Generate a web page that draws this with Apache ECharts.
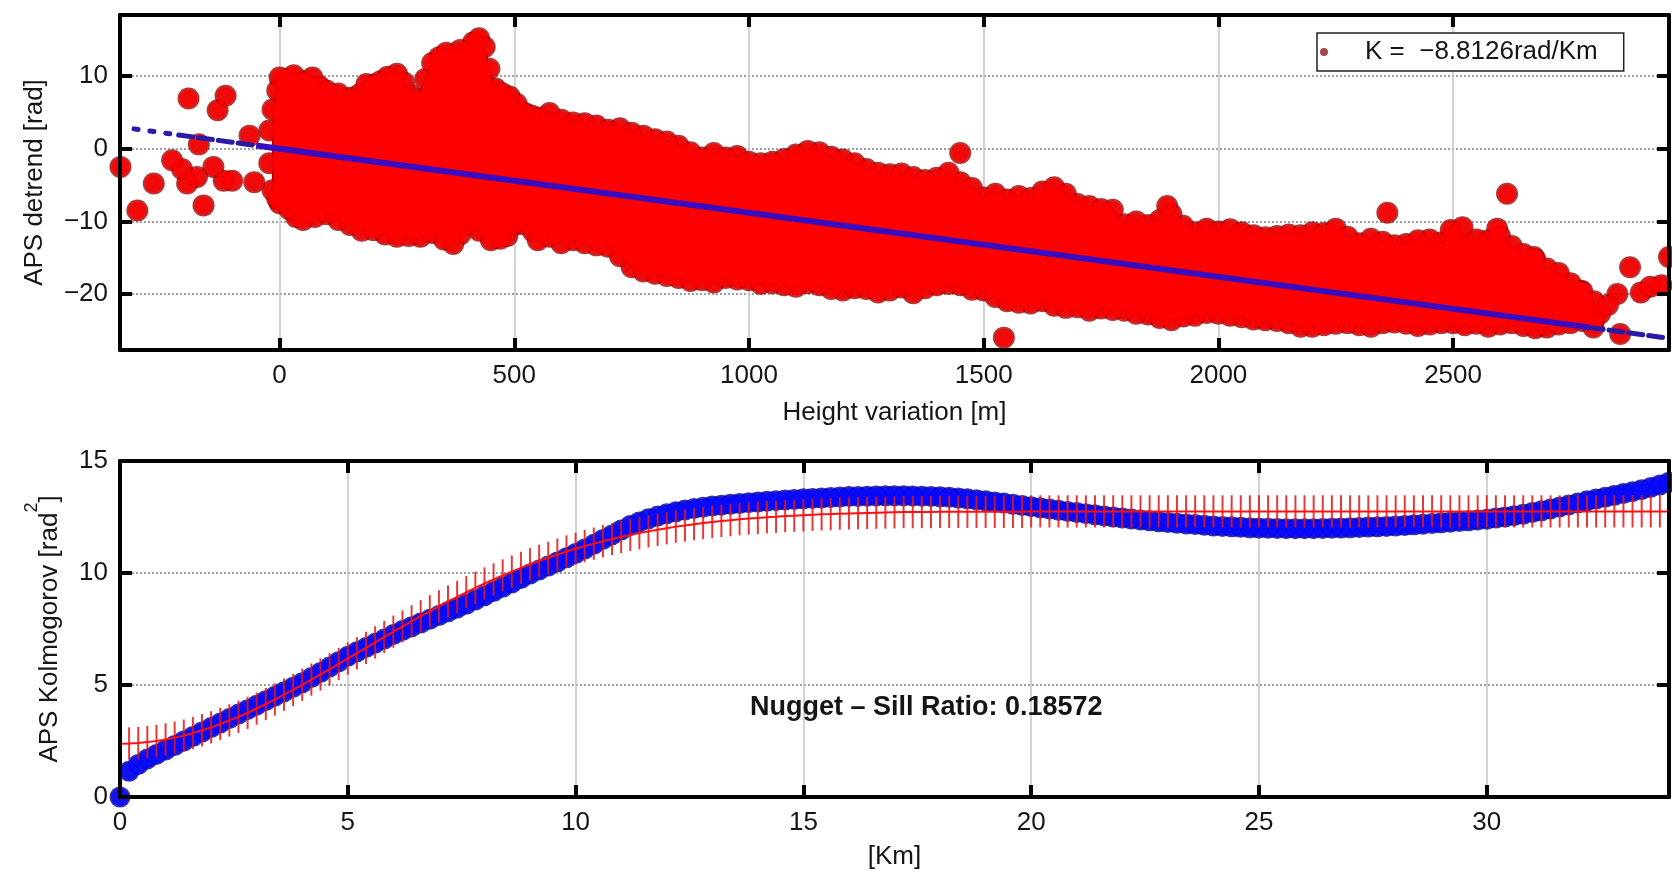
<!DOCTYPE html>
<html><head><meta charset="utf-8">
<script src="https://cdn.jsdelivr.net/npm/echarts@6/dist/echarts.min.js"></script>
<style>html,body{margin:0;padding:0;background:#fff}#c{width:1672px;height:877px}</style>
</head><body><div id="c"></div>
<script>
const FONT = '"Liberation Sans", Arial, Helvetica, sans-serif';

// ---------- top panel: APS detrend vs height ----------
const upperEdge = [[-15,5.4],[-5,8.0],[0,9.8],[15,9.6],[30,10.1],[50,9.3],[70,9.8],[85,8.6],[100,8.0],[125,7.6],[150,7.0],[170,7.5],[185,8.9],[200,8.8],[215,9.3],[230,9.9],[250,10.3],[265,9.1],[280,7.4],[295,6.8],[310,9.6],[325,11.8],[340,12.6],[355,13.2],[370,12.5],[385,13.6],[400,13.3],[412,14.6],[425,15.2],[437,14.0],[447,11.0],[460,8.3],[475,7.6],[490,7.2],[505,6.2],[520,5.0],[535,4.6],[550,4.3],[575,4.9],[600,4.0],[625,3.6],[650,3.5],[675,3.2],[700,2.6],[725,2.8],[750,2.2],[775,1.8],[800,1.3],[825,1.0],[850,0.4],[875,-0.5],[900,-1.2],[925,-0.6],[950,-1.2],[975,-1.0],[1000,-1.8],[1025,-2.0],[1050,-1.8],[1075,-1.4],[1100,-0.8],[1125,-0.3],[1150,-0.5],[1175,-1.1],[1200,-1.5],[1225,-2.0],[1250,-2.8],[1275,-3.3],[1300,-3.5],[1325,-3.4],[1350,-3.9],[1375,-4.3],[1400,-4.0],[1425,-3.3],[1450,-4.6],[1475,-5.4],[1500,-6.7],[1525,-6.2],[1550,-7.0],[1575,-6.5],[1600,-6.8],[1625,-5.9],[1650,-5.3],[1675,-6.2],[1700,-7.6],[1725,-7.9],[1750,-8.3],[1775,-8.4],[1800,-10.4],[1825,-10.0],[1850,-10.5],[1875,-9.8],[1900,-9.0],[1925,-10.6],[1950,-11.5],[1975,-11.0],[2000,-11.4],[2025,-11.1],[2050,-11.5],[2075,-11.9],[2100,-12.2],[2125,-12.0],[2150,-11.8],[2175,-11.9],[2200,-11.5],[2225,-11.6],[2250,-11.0],[2275,-12.1],[2300,-13.0],[2325,-12.4],[2350,-12.8],[2375,-13.3],[2400,-13.1],[2425,-12.6],[2450,-12.5],[2475,-12.9],[2500,-12.0],[2525,-12.9],[2550,-12.5],[2575,-12.6],[2600,-12.0],[2625,-13.4],[2650,-14.5],[2675,-15.2],[2700,-16.5],[2725,-17.1],[2750,-18.5],[2775,-19.6],[2800,-21.0]];
const lowerEdge = [[-15,-5.7],[-5,-6.9],[0,-7.5],[20,-8.3],[35,-9.4],[50,-9.8],[75,-9.4],[100,-9.0],[125,-9.8],[150,-10.5],[175,-11.3],[200,-11.2],[225,-11.8],[250,-12.1],[275,-12.0],[300,-12.1],[325,-11.6],[350,-12.5],[370,-13.1],[385,-11.8],[400,-10.5],[425,-11.3],[450,-12.6],[470,-12.4],[485,-12.0],[500,-10.5],[520,-10.4],[540,-11.4],[550,-12.6],[575,-12.1],[600,-13.0],[625,-12.6],[650,-13.0],[675,-13.3],[700,-13.5],[725,-14.8],[750,-16.3],[775,-16.9],[800,-17.2],[825,-17.5],[850,-17.8],[875,-18.2],[900,-18.1],[925,-18.4],[950,-17.8],[975,-18.0],[1000,-18.1],[1025,-18.6],[1050,-18.5],[1075,-18.8],[1100,-19.0],[1125,-18.5],[1150,-18.8],[1175,-19.3],[1200,-19.5],[1225,-19.2],[1250,-19.3],[1275,-19.8],[1300,-19.5],[1325,-19.1],[1350,-19.9],[1375,-19.2],[1400,-18.8],[1425,-18.6],[1450,-18.8],[1475,-19.4],[1500,-19.5],[1525,-20.4],[1550,-21.0],[1575,-21.2],[1600,-21.3],[1625,-21.0],[1650,-21.6],[1675,-21.9],[1700,-21.8],[1725,-22.3],[1750,-22.0],[1775,-22.2],[1800,-22.3],[1825,-22.7],[1850,-22.8],[1875,-23.3],[1900,-23.6],[1925,-23.1],[1950,-23.0],[1975,-22.6],[2000,-22.7],[2025,-23.0],[2050,-23.2],[2075,-23.5],[2100,-23.6],[2125,-23.7],[2150,-24.0],[2175,-24.5],[2200,-24.5],[2225,-24.3],[2250,-24.1],[2275,-24.0],[2300,-24.3],[2325,-24.5],[2350,-24.0],[2375,-23.9],[2400,-24.1],[2425,-24.4],[2450,-24.2],[2475,-24.0],[2500,-24.0],[2525,-24.3],[2550,-24.1],[2575,-24.5],[2600,-24.2],[2625,-24.0],[2650,-24.4],[2675,-24.7],[2700,-24.6],[2725,-24.2],[2750,-24.0],[2775,-23.7],[2800,-23.6]];
const outlierPts = [[-339,-2.5],[-303,-8.5],[-268,-4.8],[-194,6.9],[-229,-1.6],[-208,-2.8],[-197,-4.8],[-176,-3.9],[-172,0.6],[-162,-7.8],[-132,5.3],[-115,7.3],[-141,-2.5],[-119,-4.4],[-101,-4.4],[-64,1.8],[-54,-4.6],[-22,2.5],[-22,-2.0],[1450,-0.6],[1543,-26.0],[1891,-7.9],[2360,-8.8],[2495,-11.2],[2520,-10.8],[2594,-11.0],[2615,-6.2],[2672,-14.9],[2813,-22.7],[2799,-24.6],[2856,-25.5],[2850,-20.0],[2877,-16.3],[2920,-19.0],[2944,-18.8],[2960,-14.9],[2900,-19.8],[2830,-21.5],[2770,-19.5]];
// fitted line K = -8.8126 rad/km : break points between dotted / dashed / solid parts
const fitLine = [[-310,2.73],[-215,1.89],[-50,0.44],[2790,-24.59],[2950,-26.0]];
const legendLabel = 'K =  \u22128.8126rad/Km';
const heightRange = [-340, 2960];
const apsRange = [-27.7, 18.4];

// ---------- bottom panel: semivariogram ----------
const lagStep = 0.2; // km between lag bins
const semivar = [
0,1.15,1.45,1.7,1.9,2.1,2.3,2.5,2.7,2.9,
3.1,3.3,3.5,3.7,3.9,4.1,4.3,4.5,4.7,4.9,
5.1,5.33,5.56,5.8,6.04,6.28,6.48,6.67,6.86,7.05,
7.25,7.43,7.6,7.77,7.93,8.1,8.27,8.43,8.6,8.79,
8.98,9.17,9.36,9.55,9.75,9.95,10.13,10.31,10.49,10.68,
10.87,11.07,11.28,11.5,11.7,11.92,12.12,12.28,12.42,12.54,
12.64,12.73,12.81,12.88,12.94,12.99,13.03,13.07,13.1,13.14,
13.17,13.2,13.23,13.26,13.28,13.31,13.33,13.35,13.37,13.39,
13.41,13.42,13.43,13.44,13.45,13.45,13.45,13.44,13.43,13.42,
13.4,13.38,13.35,13.31,13.27,13.22,13.17,13.12,13.07,13.01,
12.96,12.91,12.86,12.8,12.75,12.7,12.65,12.6,12.55,12.5,
12.45,12.41,12.37,12.33,12.29,12.25,12.22,12.19,12.16,12.13,
12.1,12.08,12.06,12.04,12.02,12.01,12.0,11.99,11.98,11.98,
11.98,11.98,11.99,12.0,12.01,12.02,12.03,12.05,12.06,12.08,
12.1,12.12,12.15,12.18,12.21,12.24,12.27,12.3,12.33,12.37,
12.4,12.45,12.5,12.56,12.62,12.7,12.78,12.86,12.95,13.04,
13.13,13.22,13.3,13.38,13.46,13.55,13.63,13.72,13.82,13.93,
14.05];
const modelFit = [
2.38,2.39,2.41,2.45,2.50,2.57,2.65,2.74,2.85,2.98,
3.11,3.26,3.42,3.58,3.76,3.95,4.15,4.35,4.57,4.78,
5.01,5.24,5.47,5.70,5.94,6.18,6.42,6.66,6.90,7.14,
7.38,7.61,7.84,8.07,8.29,8.51,8.73,8.93,9.14,9.34,
9.53,9.71,9.89,10.06,10.23,10.39,10.54,10.68,10.82,10.96,
11.08,11.20,11.31,11.42,11.52,11.61,11.70,11.78,11.86,11.93,
12.00,12.07,12.12,12.18,12.23,12.28,12.32,12.36,12.40,12.43,
12.46,12.49,12.51,12.54,12.56,12.58,12.60,12.62,12.63,12.65,
12.66,12.67,12.68,12.69,12.70,12.71,12.72,12.72,12.72,12.72,
12.73,12.73,12.73,12.73,12.73,12.73,12.73,12.73,12.73,12.73,
12.75,12.75,12.75,12.75,12.75,12.75,12.75,12.75,12.75,12.75,
12.75,12.75,12.75,12.75,12.75,12.75,12.75,12.75,12.75,12.75,
12.75,12.75,12.75,12.75,12.75,12.75,12.75,12.75,12.75,12.75,
12.75,12.75,12.75,12.75,12.75,12.75,12.75,12.75,12.75,12.75,
12.75,12.75,12.75,12.75,12.75,12.75,12.75,12.75,12.75,12.75,
12.75,12.75,12.75,12.75,12.75,12.75,12.75,12.75,12.75,12.75,
12.75,12.75,12.75,12.75,12.75,12.75,12.75,12.75,12.75,12.75,
12.75];
const modelErr = 0.72;
const lagRange = [0, 34];
const kolmRange = [0, 15];
const nuggetText = 'Nugget \u2013 Sill Ratio: 0.18572';

// ---------- helpers ----------
const fmt = step => v => (Math.abs(v / step - Math.round(v / step)) < 1e-6 ? String(Math.round(v)).replace('-', '\u2212') : '');
const lblStyle = { fontSize: 26, fontFamily: FONT, color: '#151515' };
function frameAxis(dim, grid, range, step, pos, main, extra) {
  const a = {
    type: 'value', gridIndex: grid, min: range[0], max: range[1], position: pos, z: 10,
    axisLine: { show: true, onZero: false, lineStyle: { color: '#000', width: 4 } },
    axisTick: { show: true, inside: true, length: 12, lineStyle: { color: '#000', width: 4 } },
    axisLabel: main ? Object.assign({ show: true, margin: dim === 'x' ? 13 : 12, formatter: fmt(step) }, lblStyle) : { show: false },
    splitLine: { show: false }
  };
  if (step && range[0] % step === 0) a.interval = step;
  return Object.assign(a, extra || {});
}
function gridAxis(dim, grid, range, step, pos) {
  const a = {
    type: 'value', gridIndex: grid, min: range[0], max: range[1], position: pos, z: 0,
    axisLine: { show: false, onZero: false }, axisTick: { show: false }, axisLabel: { show: false },
    splitLine: { show: true, lineStyle: dim === 'x' ? { color: '#c4c4c4', width: 1.5, type: 'solid' } : { color: '#a0a0a0', width: 2, type: 'dotted' } }
  };
  if (step && range[0] % step === 0) a.interval = step;
  return a;
}
const nameStyle = { fontSize: 26, fontFamily: FONT, color: '#151515' };

const cloudPts = upperEdge.concat(lowerEdge, outlierPts);
const semivarData = semivar.map((v, i) => [i * lagStep, v]);
const modelData = modelFit.map((v, i) => [i * lagStep, v]);

const chart = echarts.init(document.getElementById('c'), null, { renderer: 'canvas' });
chart.setOption({
  animation: false,
  backgroundColor: '#fff',
  grid: [
    { left: 120, right: 3, top: 15, height: 335 },
    { left: 120, right: 3, top: 461, height: 336 }
  ],
  xAxis: [
    frameAxis('x', 0, heightRange, 500, 'bottom', true, { name: 'Height variation [m]', nameLocation: 'middle', nameGap: 50, nameTextStyle: nameStyle }),
    frameAxis('x', 0, heightRange, 500, 'top', false),
    gridAxis('x', 0, heightRange, 500, 'bottom'),
    frameAxis('x', 1, lagRange, 5, 'bottom', true, { name: '[Km]', nameLocation: 'middle', nameGap: 47, nameTextStyle: nameStyle }),
    frameAxis('x', 1, lagRange, 5, 'top', false),
    gridAxis('x', 1, lagRange, 5, 'bottom')
  ],
  yAxis: [
    frameAxis('y', 0, apsRange, 10, 'left', true, { name: 'APS detrend [rad]', nameLocation: 'middle', nameGap: 72, nameRotate: 90, nameTextStyle: nameStyle }),
    frameAxis('y', 0, apsRange, 10, 'right', false),
    gridAxis('y', 0, apsRange, 10, 'left'),
    frameAxis('y', 1, kolmRange, 5, 'left', true, {
      name: '{n|APS Kolmogorov [rad}{s|2}{n|]}', nameLocation: 'middle', nameGap: 57, nameRotate: 90,
      nameTextStyle: { fontFamily: FONT, color: '#151515', rich: { n: { fontSize: 26, fontFamily: FONT, color: '#151515', lineHeight: 40, verticalAlign: 'bottom' }, s: { fontSize: 18, fontFamily: FONT, color: '#151515', lineHeight: 40, verticalAlign: 'top' } } }
    }),
    frameAxis('y', 1, kolmRange, 5, 'right', false),
    gridAxis('y', 1, kolmRange, 5, 'left')
  ],
  legend: {
    left: 1317, top: 33, itemWidth: 72, itemHeight: 8, padding: [6, 26, 6, 3],
    borderColor: '#222', borderWidth: 1.5, backgroundColor: '#fff', selectedMode: false,
    textStyle: { fontSize: 26, fontFamily: FONT, color: '#151515' },
    data: [{ name: legendLabel, icon: 'circle', itemStyle: { color: '#8b1a1a', borderWidth: 0 } }]
  },
  graphic: [{
    type: 'text', x: 750, y: 708, z: 100,
    style: { text: nuggetText, fontSize: 27, fontWeight: 'bold', fontFamily: FONT, fill: '#151515', verticalAlign: 'middle' }
  }],
  series: [
    { type: 'scatter', xAxisIndex: 0, yAxisIndex: 0, data: cloudPts, symbolSize: 22, clip: false, silent: true, z: 2,
      itemStyle: { color: '#a80000' } },
    { type: 'custom', xAxisIndex: 0, yAxisIndex: 0, data: [[0, 0]], silent: true, z: 3,
      renderItem: (params, api) => {
        const pts = upperEdge.map(p => api.coord(p)).concat(lowerEdge.slice().reverse().map(p => api.coord(p)));
        return { type: 'polygon', shape: { points: pts }, style: { fill: '#ff0000', stroke: '#a80000', lineWidth: 1.5 } };
      } },
    { type: 'scatter', name: legendLabel, xAxisIndex: 0, yAxisIndex: 0, data: cloudPts, symbolSize: 18, clip: false, silent: true, z: 4,
      itemStyle: { color: '#ff0000' } },
    { type: 'line', xAxisIndex: 0, yAxisIndex: 0, data: fitLine.slice(0, 2), showSymbol: false, silent: true, z: 5,
      lineStyle: { color: '#2a1aa8', width: 5, type: [4, 12], cap: 'round' } },
    { type: 'line', xAxisIndex: 0, yAxisIndex: 0, data: fitLine.slice(1, 3), showSymbol: false, silent: true, z: 5,
      lineStyle: { color: '#2a1aa8', width: 5, type: [14, 6], cap: 'round' } },
    { type: 'line', xAxisIndex: 0, yAxisIndex: 0, data: fitLine.slice(2, 4), showSymbol: false, silent: true, z: 5,
      lineStyle: { color: '#3a0cc0', width: 6, type: 'solid' } },
    { type: 'line', xAxisIndex: 0, yAxisIndex: 0, data: fitLine.slice(3, 5), showSymbol: false, silent: true, z: 5,
      lineStyle: { color: '#2a1aa8', width: 5, type: [14, 6], cap: 'round' } },

    { type: 'scatter', xAxisIndex: 3, yAxisIndex: 3, data: semivarData, symbolSize: 21, clip: false, silent: true, z: 2,
      itemStyle: { color: '#00009a' } },
    { type: 'scatter', xAxisIndex: 3, yAxisIndex: 3, data: semivarData, symbolSize: 18, clip: false, silent: true, z: 3,
      itemStyle: { color: '#0a0aff' } },
    { type: 'custom', xAxisIndex: 3, yAxisIndex: 3, data: modelData, silent: true, z: 4,
      renderItem: (params, api) => {
        const x = api.value(0), m = api.value(1);
        const p1 = api.coord([x, m - modelErr]), p2 = api.coord([x, m + modelErr]);
        return { type: 'line', shape: { x1: p1[0], y1: p1[1], x2: p2[0], y2: p2[1] }, style: { stroke: '#e01818', lineWidth: 2, opacity: 0.85 } };
      } },
    { type: 'line', xAxisIndex: 3, yAxisIndex: 3, data: modelData, showSymbol: false, silent: true, z: 5,
      lineStyle: { color: '#ff1010', width: 2 } }
  ]
});
</script></body></html>
